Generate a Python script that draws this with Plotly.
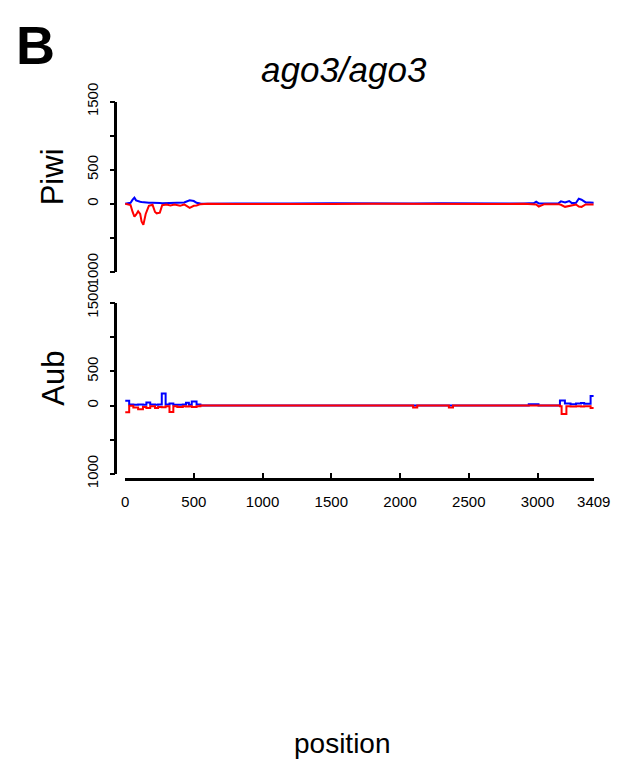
import plotly.graph_objects as go

# ---------------- data ----------------
piwi_pos = [1, 20, 40, 55, 68, 80, 95, 110, 120, 133, 150, 173, 200, 218, 230, 253,
            270, 300, 330, 360, 400, 430, 443, 470, 500, 520, 548, 600, 800, 1000,
            1200, 1500, 1800, 1950, 2100, 2300, 2500, 2700, 2900, 2974, 2990, 3009,
            3050, 3150, 3170, 3200, 3230, 3250, 3280, 3300, 3320, 3350, 3380, 3409]
piwi_sense = [0, 5, 15, 60, 90, 50, 35, 30, 25, 20, 20, 15, 15, 10, 10, 10,
              8, 10, 5, 8, 10, 20, 30, 50, 40, 15, 5, 0, 5, 0,
              5, 8, 3, 5, 5, 8, 5, 8, 5, 10, 30, 5,
              5, 5, 35, 20, 40, 10, 15, 75, 60, 20, 20, 15]
piwi_antisense = [0, -5, -20, -120, -190, -160, -110, -150, -260, -310, -150, -30, -15, -120, -140, -130,
                  -20, -10, -25, -10, -30, -10, -30, -60, -30, -25, -5, 0, -3, 0,
                  0, -3, 0, -2, 0, -5, 0, -3, 0, -5, -10, -40,
                  -5, -5, -15, -45, -35, -20, -10, -40, -45, -10, -10, -10]

aub_pos = [1, 30, 60, 95, 130, 155, 183, 218, 240, 267, 295, 323, 351, 380, 420,
           443, 464, 485, 520, 548, 2095, 2125, 2355, 2385, 2936, 3007, 3163,
           3175, 3199, 3210, 3240, 3280, 3316, 3339, 3386, 3409]
aub_sense = [70, 15, 10, 15, 10, 45, 15, 10, 15, 175, 15, 30, 10, 10, 15,
             40, 10, 60, 15, 0, 0, 0, 0, 0, 20, 0, 75,
             75, 28, 28, 20, 28, 38, 25, 140, 140]
aub_antisense = [-100, -5, -30, -55, -20, -35, -10, -35, -20, -25, -10, -95, -10, -20, -10,
                 -15, -10, -20, -10, 0, -30, 0, -30, 0, 0, 0, -10,
                 -125, -125, -10, -15, -10, -15, -10, -35, -35]

x_tickvals = [0, 500, 1000, 1500, 2000, 2500, 3000, 3409]
y_tickvals = [-1000, -500, 0, 500, 1000, 1500]
y_ticktext = ["1000", "", "0", "500", "", "1500"]

title_text = "ago3/ago3"
panel_letter = "B"
track_names = ["Piwi", "Aub"]
x_title = "position"

# ---------------- figure ----------------
# the page adds an 8px body margin; size the figure so the page fits the window
OFF = 8
W, H = 641 - 2 * OFF, 777 - 2 * OFF
FONT = "Liberation Sans, Arial, Helvetica, sans-serif"

def px(x):
    return (x - OFF) / W

def py(y):
    return 1 - (y - OFF) / H

fig = go.Figure()
fig.add_trace(go.Scatter(x=piwi_pos, y=piwi_sense, mode="lines", xaxis="x", yaxis="y",
                         line=dict(color="#0000FF", width=2), hoverinfo="skip"))
fig.add_trace(go.Scatter(x=piwi_pos, y=piwi_antisense, mode="lines", xaxis="x", yaxis="y",
                         line=dict(color="#FF0000", width=2), hoverinfo="skip"))
fig.add_trace(go.Scatter(x=aub_pos, y=aub_sense, mode="lines", xaxis="x", yaxis="y2",
                         line=dict(color="#0000FF", width=2, shape="hv"), hoverinfo="skip"))
fig.add_trace(go.Scatter(x=aub_pos, y=aub_antisense, mode="lines", xaxis="x", yaxis="y2",
                         line=dict(color="#FF0000", width=2, shape="hv"), hoverinfo="skip"))

yax_common = dict(range=[-1000, 1500], anchor="free", position=px(115),
                  showline=True, linecolor="black", linewidth=2.5,
                  ticks="outside", ticklen=5, tickwidth=2, tickcolor="black",
                  tickvals=y_tickvals, ticktext=y_ticktext, tickangle=-90,
                  tickfont=dict(family=FONT, size=15, color="black"),
                  ticklabelstandoff=6,
                  showgrid=False, zeroline=False, fixedrange=True)

fig.update_layout(
    width=W, height=H,
    margin=dict(l=0, r=0, t=0, b=0),
    paper_bgcolor="white", plot_bgcolor="white",
    showlegend=False,
    xaxis=dict(domain=[px(125), px(610)], range=[0, 3409],
               anchor="free", position=py(481),
               showline=True, linecolor="black", linewidth=2.5,
               ticks="inside", ticklen=6, tickwidth=2, tickcolor="black",
               tickvals=x_tickvals, ticktext=[str(v) for v in x_tickvals],
               tickfont=dict(family=FONT, size=15, color="black"),
               ticklabelstandoff=8,
               showgrid=False, zeroline=False, fixedrange=True),
    yaxis=dict(domain=[py(264), py(86)], **yax_common),
    yaxis2=dict(domain=[py(475), py(296.7)], **yax_common),
)

annotations = [
    dict(text="<b>" + panel_letter + "</b>", x=px(32), y=py(27), font=dict(size=54)),
    dict(text="<i>" + title_text + "</i>", x=px(352), y=py(52), font=dict(size=35)),
    dict(text=track_names[0], x=px(50), y=py(164.5), font=dict(size=31), textangle=-90),
    dict(text=track_names[1], x=px(50.5), y=py(375.5), font=dict(size=31), textangle=-90),
    dict(text=x_title, x=px(350), y=py(757), font=dict(size=28)),
]
for a in annotations:
    a.update(xref="paper", yref="paper", showarrow=False, xanchor="center", yanchor="middle")
    a["font"].update(family=FONT, color="black")
fig.update_layout(annotations=annotations)

fig.write_html("out.html")
